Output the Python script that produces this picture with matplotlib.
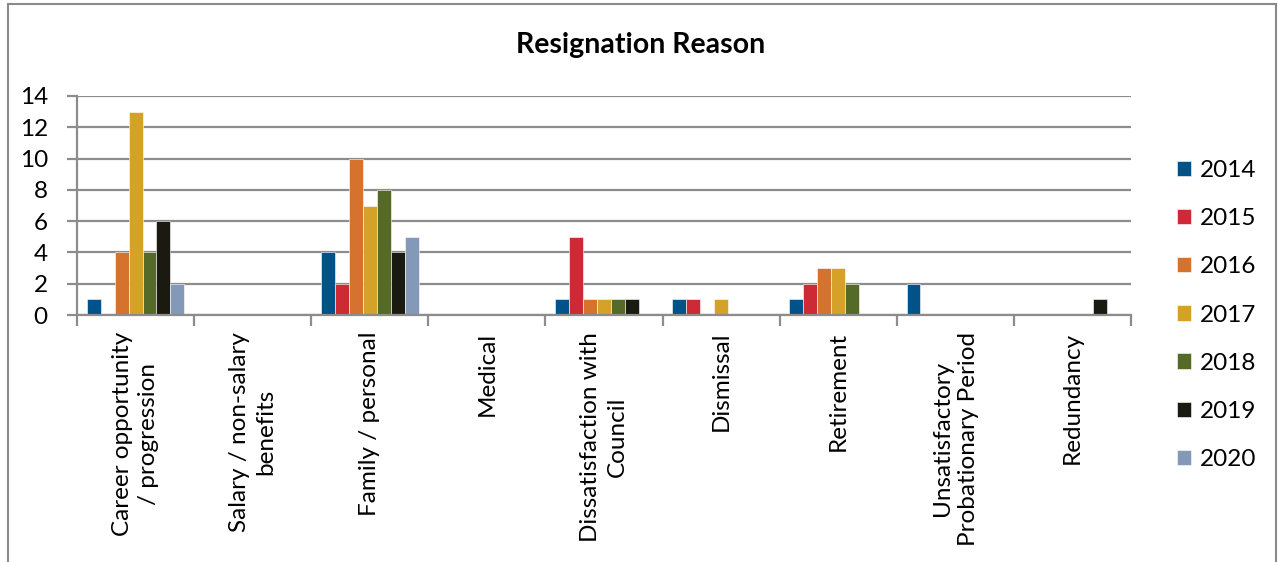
import numpy as np
import matplotlib.pyplot as plt
from matplotlib.patches import Rectangle

plt.rcParams['font.family'] = ['Lato', 'DejaVu Sans']

categories = ['Career opportunity\n/ progression', 'Salary / non-salary\nbenefits',
              'Family / personal', 'Medical', 'Dissatisfaction with\nCouncil',
              'Dismissal', 'Retirement', 'Unsatisfactory\nProbationary Period', 'Redundancy']
years = ['2014', '2015', '2016', '2017', '2018', '2019', '2020']
v2014 = [1, 0, 4, 0, 1, 1, 1, 2, 0]
v2015 = [0, 0, 2, 0, 5, 1, 2, 0, 0]
v2016 = [4, 0, 10, 0, 1, 0, 3, 0, 0]
v2017 = [13, 0, 7, 0, 1, 1, 3, 0, 0]
v2018 = [4, 0, 8, 0, 1, 0, 2, 0, 0]
v2019 = [6, 0, 4, 0, 1, 0, 0, 0, 1]
v2020 = [2, 0, 5, 0, 0, 0, 0, 0, 0]
series = [v2014, v2015, v2016, v2017, v2018, v2019, v2020]
colors = ['#02528a', '#cc2a35', '#d5722e', '#d4a229', '#566a27', '#1a1a10', '#8498b8']

W, H = 1278, 562
fig = plt.figure(figsize=(W / 100, H / 100), dpi=100)
ax = fig.add_axes([77 / W, 1 - 315 / H, (1131 - 77) / W, (315 - 96) / H])

# chart border
fig.patches.append(Rectangle((8 / W, -0.05), 1268 / W, 1.05 - 4 / H, transform=fig.transFigure,
                             fill=False, edgecolor='#8a8a8a', linewidth=1.5))

x = np.arange(len(categories))
bw = 0.119
for i, (vals, col, yr) in enumerate(zip(series, colors, years)):
    ax.bar(x + (i - 3) * bw, vals, width=bw, color=col, edgecolor='white', linewidth=0.4,
           label=yr, zorder=3)

gray = '#8c8c8c'
ax.set_xlim(-0.5, 8.5)
ax.set_ylim(0, 14)
ax.set_yticks(range(0, 15, 2))
ax.grid(axis='y', color=gray, linewidth=1.6, zorder=0)
for s in ['top', 'right']:
    ax.spines[s].set_visible(False)
for s in ['left', 'bottom']:
    ax.spines[s].set_color(gray)
    ax.spines[s].set_linewidth(1.6)
    ax.spines[s].set_zorder(4)

ax.set_xticks(x)
ax.set_xticklabels(categories, rotation=90, ha='center', va='top', multialignment='center',
                   fontsize=17.5, linespacing=1.3)
ax.set_xticks(np.arange(-0.5, 9), minor=True)
ax.tick_params(axis='x', which='major', length=0, pad=12)
ax.tick_params(axis='x', which='minor', length=8, width=1.6, color=gray)
ax.tick_params(axis='y', length=7, width=1.6, color=gray, labelsize=17.5, pad=14)

fig.text(641 / W, 1 - 45 / H, 'Resignation Reason', ha='center', va='center',
         fontsize=20.5, fontweight='bold')

fig.legend(loc='center left', bbox_to_anchor=(1155 / W, 1 - 315 / H), frameon=False,
           fontsize=17.5, handlelength=0.6, handleheight=0.6, handletextpad=0.35,
           labelspacing=1.12)

fig.savefig('out.png', dpi=100)
